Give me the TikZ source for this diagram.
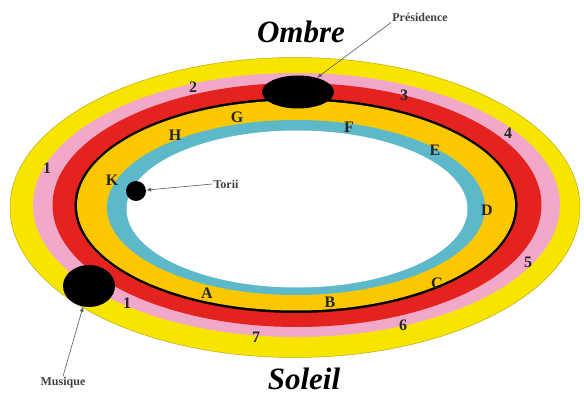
\documentclass[tikz,border=0pt]{standalone}
\usepackage{fontspec}
\setmainfont{Liberation Serif}
\usepackage{tikz}
\usetikzlibrary{arrows.meta, positioning, shapes.geometric}
\definecolor{ringyellow}{HTML}{F7E500}
\definecolor{ringpink}{HTML}{F2A9C9}
\definecolor{ringred}{HTML}{E4231F}
\definecolor{ringgold}{HTML}{FAC700}
\definecolor{ringcyan}{HTML}{5DB9C9}
\tikzset{
    ringnum/.style={font=\fontsize{16}{16}\selectfont\bfseries, text=black!85, inner sep=0pt},
    pointer/.style={-{Latex[length=5pt, width=4pt]}, gray!70!black, line width=0.6pt},
    tinylabel/.style={font=\fontsize{12}{12}\selectfont\bfseries, text=black!75, inner sep=1pt},
    bigword/.style={font=\fontsize{31}{31}\selectfont\bfseries\itshape, inner sep=0pt}
}

\begin{document}
\begin{tikzpicture}[x=1pt, y=-1pt]
    \useasboundingbox (0,0) rectangle (584,396);
    \fill[white] (0,0) rectangle (584,396);

    % rings, from outside in
    \fill[ringyellow, draw=ringyellow!75!black, line width=0.5pt] (295,207.5) ellipse [x radius=285, y radius=150];
    \fill[ringpink] (296.5,205) ellipse [x radius=263.5, y radius=132];
    \fill[ringred] (297,205) ellipse [x radius=244.5, y radius=122];
    \fill[black] (296,205.5) ellipse [x radius=221.5, y radius=107.5];
    \fill[ringgold] (296,205.5) ellipse [x radius=219, y radius=105];
    \fill[ringcyan] (296,207.5) ellipse [x radius=189, y radius=87.5];
    \fill[white] (297,209) ellipse [x radius=170.5, y radius=78.5];

    % blobs
    \node[ellipse, fill=black, minimum width=72pt, minimum height=33pt, inner sep=0pt] (presblob) at (298,92) {};
    \node[ellipse, fill=black, minimum width=52pt, minimum height=42pt, inner sep=0pt] (musblob) at (89,286) {};
    \node[circle, fill=black, minimum size=20pt, inner sep=0pt] (toriidot) at (136,191) {};

    % outer numbers
    \node[ringnum] (n1) at (47,168) {1};
    \node[ringnum] (n2) at (193,87) {2};
    \node[ringnum] (n3) at (404,95) {3};
    \node[ringnum] (n4) at (508,133) {4};
    \node[ringnum] (n5) at (528,262) {5};
    \node[ringnum] (n6) at (403,325) {6};
    \node[ringnum] (n7) at (256,337) {7};
    \node[ringnum] (n8) at (127,303) {1};

    % inner letters
    \node[ringnum] (la) at (207,293) {A};
    \node[ringnum] (lb) at (330,302) {B};
    \node[ringnum] (lc) at (437,283) {C};
    \node[ringnum] (ld) at (487,210) {D};
    \node[ringnum] (le) at (435,150) {E};
    \node[ringnum] (lf) at (349,127) {F};
    \node[ringnum] (lg) at (237,117) {G};
    \node[ringnum] (lh) at (175,135) {H};
    \node[ringnum] (lk) at (112,180) {K};

    % names and pointers
    \node[tinylabel] (pres) at (420,17) {Présidence};
    \node[tinylabel] (torii) at (226,184) {Torii};
    \node[tinylabel] (mus) at (63,383) {Musique};

    \draw[pointer] (pres.south west) -- (presblob);
    \draw[pointer] (torii.west) -- (toriidot);
    \draw[pointer] (mus.north) -- (musblob);

    \node[bigword] (ombre) at (301,32) {Ombre};
    \node[bigword] (soleil) at (304,379) {Soleil};
\end{tikzpicture}
\end{document}
